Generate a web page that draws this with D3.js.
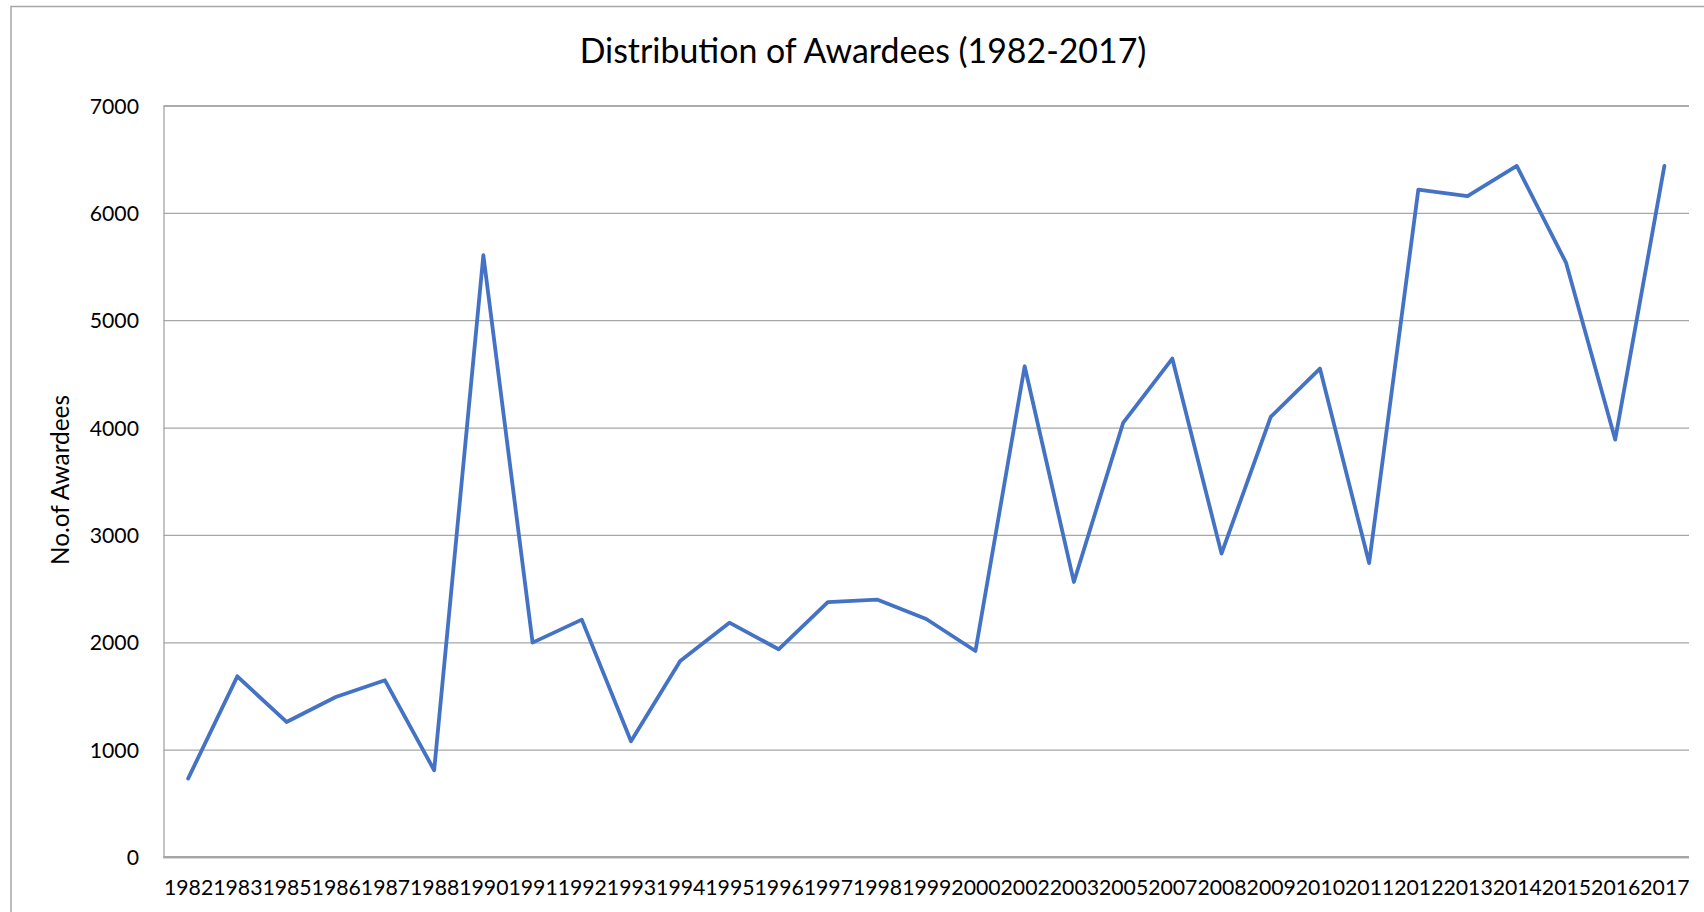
<!DOCTYPE html>
<html>
<head>
<meta charset="utf-8">
<script src="https://cdn.jsdelivr.net/npm/d3@7"></script>
<style>
  html, body { margin: 0; padding: 0; background: #fff; overflow: hidden; }
  svg { display: block; font-family: Lato, "Open Sans", "Noto Sans", sans-serif; }
</style>
</head>
<body>
<svg id="chart" width="1704" height="912"></svg>
<script>
// ---- data ----
const years = ["1982","1983","1985","1986","1987","1988","1990","1991","1992","1993","1994","1995","1996","1997","1998","1999","2000","2002","2003","2005","2007","2008","2009","2010","2011","2012","2013","2014","2015","2016","2017"];
const awardees = [730,1683,1258,1490,1646,808,5605,1997,2211,1078,1826,2183,1935,2375,2398,2217,1919,4571,2562,4043,4643,2826,4099,4550,2738,6217,6155,6437,5537,3888,6437];
const yTicks = [0,1000,2000,3000,4000,5000,6000,7000];
const titleText = "Distribution of Awardees (1982-2017)";
const yTitleText = "No.of Awardees";

// ---- layout ----
const FONT = 'Lato, "Open Sans", "Noto Sans", sans-serif';
const plot = { left: 163.5, right: 1689, top: 105.5, bottom: 857 };
const svg = d3.select("#chart");

// chart area border
svg.append("rect")
  .attr("x", 11).attr("y", 6.5)
  .attr("width", 1720).attr("height", 930)
  .attr("fill", "#fff").attr("stroke", "#a6a6a6").attr("stroke-width", 1.5);

const x = d3.scalePoint().domain(years).range([plot.left, plot.right]).padding(0.5);
const y = d3.scaleLinear().domain([0, 7000]).range([plot.bottom, plot.top]);

// measure font size so a 4-digit label is ~49px wide
const probe = svg.append("text").style("font-family", FONT).style("font-size", "20px").text("1982");
const labelSize = 20 * 49.3 / probe.node().getComputedTextLength();
probe.remove();

// gridlines + y labels via axis
const yAxis = d3.axisLeft(y).tickValues(yTicks).tickSize(-(plot.right - plot.left)).tickPadding(24.5).tickFormat(d3.format("d"));
const gy = svg.append("g").attr("transform", `translate(${plot.left},0)`).call(yAxis)
  .attr("font-family", FONT).attr("font-size", labelSize);
gy.select(".domain").attr("stroke", "#a6a6a6").attr("stroke-width", 1.3);
gy.selectAll(".tick line").attr("stroke", "#a6a6a6").attr("stroke-width", 1.3);
gy.selectAll(".tick text").attr("fill", "#000").attr("dy", "0.36em");

// x axis
const xAxis = d3.axisBottom(x).tickSize(0).tickPadding(0);
const gx = svg.append("g").attr("transform", `translate(0,${plot.bottom})`).call(xAxis)
  .attr("font-family", FONT).attr("font-size", labelSize);
gx.select(".domain").attr("stroke", "#a6a6a6").attr("stroke-width", 2).attr("d", `M${plot.left},0H${plot.right}`);
gx.selectAll(".tick text").attr("fill", "#000").attr("y", 38).attr("dy", 0);

// line
const line = d3.line().x((d, i) => x(years[i])).y(d => y(d));
svg.append("path")
  .datum(awardees)
  .attr("d", line)
  .attr("fill", "none")
  .attr("stroke", "#4472C4")
  .attr("stroke-width", 3.8)
  .attr("stroke-linejoin", "round")
  .attr("stroke-linecap", "round");

// title (fit to measured width)
function fitText(sel, target) {
  const len = sel.node().getComputedTextLength();
  const fs = parseFloat(sel.style("font-size"));
  sel.style("font-size", (fs * target / len) + "px");
}
const title = svg.append("text")
  .attr("x", 863).attr("y", 63)
  .attr("text-anchor", "middle")
  .attr("fill", "#000")
  .style("font-family", FONT)
  .style("font-size", "30px")
  .text(titleText);
fitText(title, 567);

const yTitle = svg.append("text")
  .attr("transform", `translate(69,480) rotate(-90)`)
  .attr("text-anchor", "middle")
  .attr("fill", "#000")
  .style("font-family", FONT)
  .style("font-size", "20px")
  .text(yTitleText);
fitText(yTitle, 170);
</script>
</body>
</html>
